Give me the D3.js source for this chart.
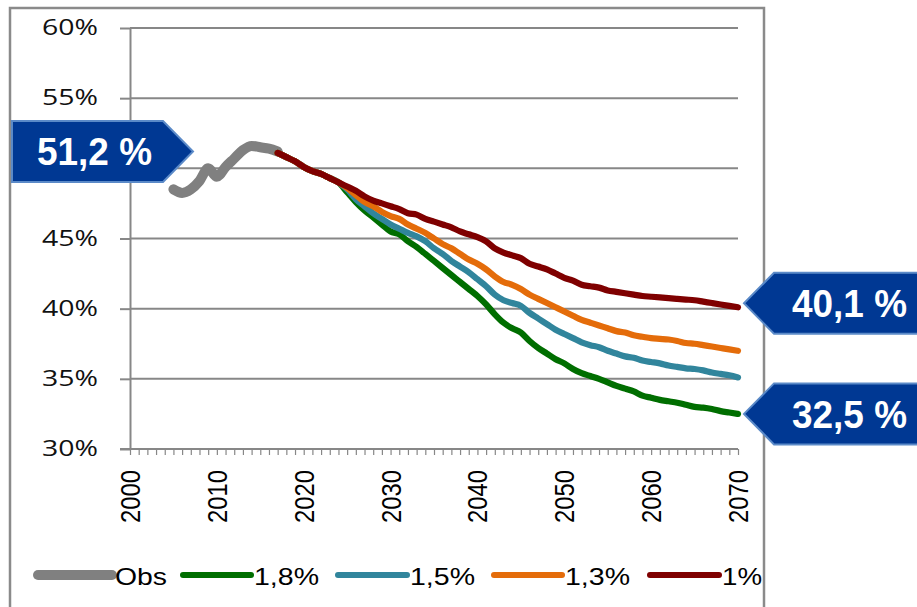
<!DOCTYPE html>
<html>
<head>
<meta charset="utf-8">
<script src="https://cdn.jsdelivr.net/npm/d3@7"></script>
<style>
  body { margin: 0; background: #fff; }
  svg { display: block; }
</style>
</head>
<body>
<svg width="917" height="607"></svg>
<script>
// observed share, 2005-2017
const obsYears = [2005, 2006, 2007, 2008, 2009, 2010, 2011, 2012, 2013, 2014, 2015, 2016, 2017];
const obsValues = [48.5, 48.25, 48.5, 49.1, 50.0, 49.4, 50.1, 50.7, 51.3, 51.6, 51.5, 51.4, 51.2];

// projections, 2017-2070
const projYears = d3.range(2017, 2071);
const proj18 = [51.1, 50.8, 50.5, 50.1, 49.8, 49.6, 49.3, 49.0, 48.3, 47.6,
  47.0, 46.5, 46.0, 45.5, 45.3, 44.8, 44.4, 43.9, 43.4, 42.9,
  42.4, 41.9, 41.4, 40.9, 40.3, 39.6, 39.0, 38.6, 38.3, 37.7,
  37.2, 36.8, 36.4, 36.1, 35.7, 35.4, 35.2, 35.0, 34.75, 34.5,
  34.3, 34.1, 33.8, 33.65, 33.5, 33.4, 33.3, 33.15, 33.0, 32.95,
  32.85, 32.7, 32.6, 32.5];
const proj15 = [51.1, 50.8, 50.5, 50.1, 49.8, 49.6, 49.3, 49.0, 48.5, 47.8,
  47.3, 46.8, 46.4, 46.0, 45.7, 45.4, 45.15, 44.8, 44.3, 43.9,
  43.4, 43.0, 42.6, 42.1, 41.6, 41.0, 40.6, 40.4, 40.2, 39.7,
  39.3, 38.9, 38.5, 38.2, 37.9, 37.6, 37.4, 37.25, 37.0, 36.8,
  36.6, 36.5, 36.3, 36.2, 36.1, 35.95, 35.85, 35.75, 35.7, 35.6,
  35.45, 35.35, 35.25, 35.1];
const proj13 = [51.1, 50.8, 50.5, 50.1, 49.8, 49.6, 49.3, 49.0, 48.6, 48.1,
  47.6, 47.3, 46.9, 46.6, 46.4, 46.0, 45.7, 45.4, 45.0, 44.6,
  44.3, 43.9, 43.5, 43.2, 42.8, 42.3, 41.9, 41.7, 41.4, 41.0,
  40.7, 40.4, 40.1, 39.8, 39.5, 39.2, 39.0, 38.8, 38.6, 38.4,
  38.3, 38.1, 38.0, 37.9, 37.85, 37.8, 37.7, 37.55, 37.5, 37.4,
  37.3, 37.2, 37.1, 37.0];
const proj10 = [51.1, 50.8, 50.5, 50.1, 49.8, 49.6, 49.3, 49.0, 48.7, 48.4,
  48.0, 47.7, 47.5, 47.3, 47.1, 46.8, 46.7, 46.4, 46.2, 46.0,
  45.8, 45.5, 45.3, 45.1, 44.8, 44.3, 44.0, 43.8, 43.6, 43.2,
  43.0, 42.8, 42.5, 42.2, 42.0, 41.7, 41.6, 41.5, 41.3, 41.2,
  41.1, 41.0, 40.9, 40.85, 40.8, 40.75, 40.7, 40.65, 40.6, 40.5,
  40.4, 40.3, 40.2, 40.1];

const seriesNames = ["Obs", "1,8%", "1,5%", "1,3%", "1%"];
const yTicks = [30, 35, 40, 45, 50, 55, 60];
// the 50% label sits under the 51,2 % callout in the original
const yLabels = [30, 35, 40, 45, 55, 60];
const xTicks = [2000, 2010, 2020, 2030, 2040, 2050, 2060, 2070];

// callouts: [value, text, side]
const callouts = [
  [51.2, "51,2 %", "left"],
  [40.1, "40,1 %", "right"],
  [32.5, "32,5 %", "right"]
];

const colors = {
  "Obs": "#808080",
  "1,8%": "#006e00",
  "1,5%": "#31859c",
  "1,3%": "#e46c0a",
  "1%": "#7f0000"
};

const svg = d3.select("svg");
const grid = "#878787";

const x = d3.scaleLinear().domain([2000, 2070]).range([130, 738]);
const y = d3.scaleLinear().domain([30, 60]).range([449, 28]);

// chart frame
svg.append("rect")
  .attr("x", 10).attr("y", 8)
  .attr("width", 754).attr("height", 640)
  .attr("fill", "none")
  .attr("stroke", "#8a8a8a")
  .attr("stroke-width", 2.5);

// horizontal grid + y axis
const yAxis = svg.append("g").attr("transform", "translate(130,0)")
  .call(d3.axisLeft(y).tickValues(yTicks).tickSize(10).tickSizeOuter(0).tickFormat(""));
yAxis.select(".domain").attr("stroke", grid).attr("stroke-width", 2);
yAxis.selectAll(".tick line").attr("stroke", grid).attr("stroke-width", 2);

svg.append("g").selectAll("line")
  .data(yTicks.filter(d => d > 30))
  .join("line")
    .attr("x1", 130).attr("x2", 738)
    .attr("y1", d => y(d)).attr("y2", d => y(d))
    .attr("stroke", grid).attr("stroke-width", 2);

svg.append("g").selectAll("text")
  .data(yLabels)
  .join("text")
    .attr("x", 98).attr("y", d => y(d) + 7)
    .attr("text-anchor", "end")
    .attr("font-family", "'Open Sans', sans-serif")
    .attr("font-size", 21)
    .attr("fill", "#111")
    .attr("textLength", 56).attr("lengthAdjust", "spacingAndGlyphs")
    .text(d => d + "%");

// x axis with yearly ticks
const xAxis = svg.append("g").attr("transform", `translate(0,${y(30)})`)
  .call(d3.axisBottom(x).tickValues(d3.range(2000, 2071)).tickSize(6).tickSizeOuter(0).tickFormat(""));
xAxis.select(".domain").attr("stroke", grid).attr("stroke-width", 2)
  .attr("d", `M120,0H${x(2070)}`);
xAxis.selectAll(".tick line").attr("stroke", grid).attr("stroke-width", 1.2);

svg.append("g").selectAll("text")
  .data(xTicks)
  .join("text")
    .attr("transform", d => `translate(${x(d) + 10},470) rotate(-90)`)
    .attr("text-anchor", "end")
    .attr("font-family", "'Liberation Sans', Arial, sans-serif")
    .attr("font-size", 27)
    .attr("textLength", 53).attr("lengthAdjust", "spacingAndGlyphs")
    .text(d => d);

// lines
const line = d3.line()
  .x(d => x(d[0]))
  .y(d => y(d[1]))
  .curve(d3.curveMonotoneX);

const series = [
  { name: "Obs", data: d3.zip(obsYears, obsValues), width: 10 },
  { name: "1,8%", data: d3.zip(projYears, proj18), width: 6.2 },
  { name: "1,5%", data: d3.zip(projYears, proj15), width: 6.2 },
  { name: "1,3%", data: d3.zip(projYears, proj13), width: 6.2 },
  { name: "1%", data: d3.zip(projYears, proj10), width: 6.2 }
];

svg.append("g").selectAll("path")
  .data(series)
  .join("path")
    .attr("d", d => line(d.data))
    .attr("fill", "none")
    .attr("stroke", d => colors[d.name])
    .attr("stroke-width", d => d.width)
    .attr("stroke-linecap", "round")
    .attr("stroke-linejoin", "round");

// legend
const legendX = [38, 183, 338, 494, 650];
const legendW = [74, 68, 69, 68, 69];
const legendTextW = [52, 65, 65, 65, 40];
const legend = svg.append("g");
seriesNames.forEach((name, i) => {
  legend.append("line")
    .attr("x1", legendX[i]).attr("x2", legendX[i] + legendW[i])
    .attr("y1", 575).attr("y2", 575)
    .attr("stroke", colors[name])
    .attr("stroke-width", i === 0 ? 10 : 6)
    .attr("stroke-linecap", "round");
  legend.append("text")
    .attr("x", legendX[i] + legendW[i] + 3).attr("y", 585)
    .attr("font-family", "'Liberation Sans Narrow', 'Liberation Sans', sans-serif")
    .attr("font-size", 24)
    .attr("textLength", legendTextW[i]).attr("lengthAdjust", "spacingAndGlyphs")
    .text(name);
});

// value callouts
const boxH = 61, arrow = 30;
const calloutG = svg.append("g");
callouts.forEach(([v, label, side], i) => {
  const cy = y(v) - (i === 1 ? 4 : 0);
  let pts, tx;
  if (side === "left") {
    const x0 = 12, x1 = 163;
    pts = [[x0, cy - boxH / 2], [x1, cy - boxH / 2], [x1 + arrow, cy], [x1, cy + boxH / 2], [x0, cy + boxH / 2]];
    tx = 37;
  } else {
    const tip = x(2070) + 6, x1 = 920;
    pts = [[tip, cy], [tip + arrow, cy - boxH / 2], [x1, cy - boxH / 2], [x1, cy + boxH / 2], [tip + arrow, cy + boxH / 2]];
    tx = 792;
  }
  calloutG.append("polygon")
    .attr("points", pts.map(p => p.join(",")).join(" "))
    .attr("fill", "#003893")
    .attr("stroke", "#5b8ac8")
    .attr("stroke-width", 2);
  calloutG.append("text")
    .attr("x", tx).attr("y", cy + 14)
    .attr("fill", "#fff")
    .attr("font-family", "'Liberation Sans', Arial, sans-serif")
    .attr("font-weight", "bold")
    .attr("font-size", 38)
    .attr("textLength", 115).attr("lengthAdjust", "spacingAndGlyphs")
    .text(label);
});
</script>
</body>
</html>
